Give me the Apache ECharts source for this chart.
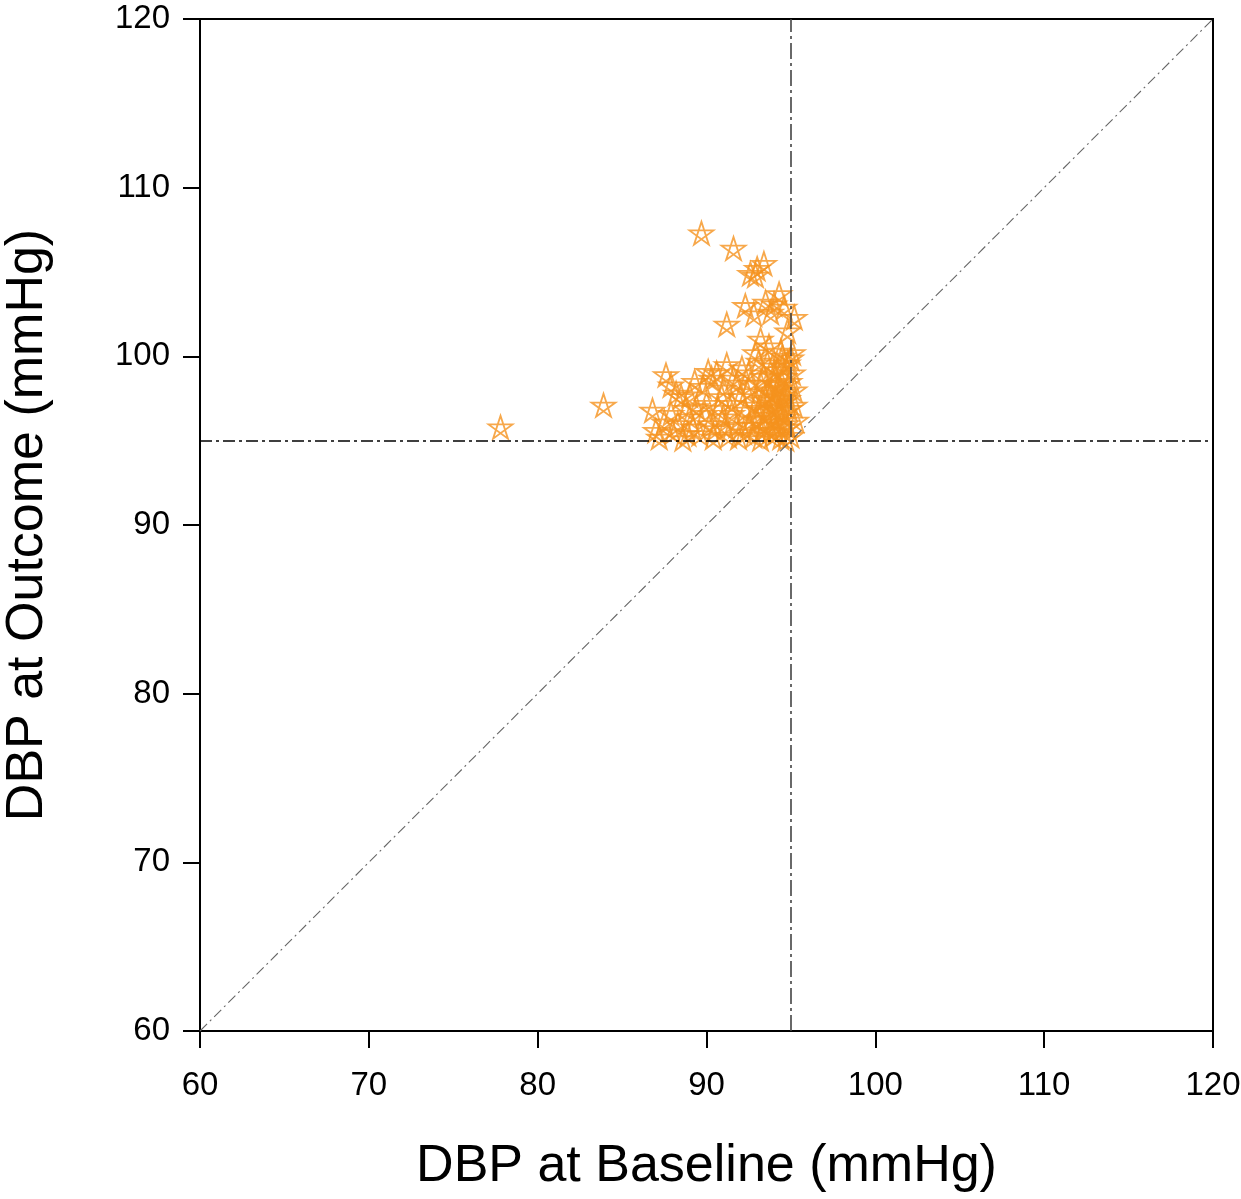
<!DOCTYPE html>
<html>
<head>
<meta charset="utf-8">
<title>DBP at Baseline vs Outcome</title>
<script src="https://cdn.jsdelivr.net/npm/echarts@6/dist/echarts.min.js"></script>
<style>
  html, body { margin: 0; padding: 0; background: #fff; }
  #ct1 { width: 1241px; height: 1199px; }
</style>
</head>
<body>
<div id="ct1"></div>
<script>
// baseline DBP (x) and outcome DBP (y)
var baselineDBP = [
  77.8, 83.9, 89.7, 91.6, 92.6, 93.0, 93.4, 92.9,
  94.3, 92.3, 93.5, 94.0, 94.6, 92.8, 93.8, 95.2, 91.2, 94.8, 93.2, 93.7, 92.9, 94.4, 95.0,
  87.6, 87.9, 88.5, 86.8, 87.5, 87.2, 88.0, 88.6, 89.0, 89.4, 89.0, 89.8, 90.3, 90.6, 91.2, 91.6,
  92.1, 90.9, 90.2, 89.6, 90.5, 91.0, 91.3, 91.8, 92.3, 92.0, 92.6, 93.1, 92.5, 93.4, 89.2, 88.3,
  87.9, 88.8, 90.0, 90.7, 91.5, 92.2, 92.8, 93.0, 93.3, 93.6, 93.5, 93.2, 93.8, 94.0, 94.2, 94.5,
  94.7, 94.9, 95.1, 94.3, 94.1, 93.9, 94.6, 94.8, 95.0, 94.4, 93.7, 94.2, 94.8, 93.9, 95.2, 95.3,
  94.0, 93.6, 94.5, 95.1, 89.3, 88.2, 90.1, 91.0, 91.8, 92.4, 92.7, 91.5, 90.4, 89.9, 91.9, 92.9,
  93.4, 94.9, 95.2, 94.6, 93.2, 87.0, 88.9, 91.1, 92.5, 93.9, 94.3, 94.7, 93.1, 94.1, 94.4, 93.8,
  94.0, 94.6, 93.5, 94.2, 94.7, 93.9, 94.5, 93.3, 94.8, 94.1
];
var outcomeDBP = [
  95.8, 97.1, 107.3, 106.4, 104.9, 105.2, 105.5, 104.8,
  103.7, 103.0, 103.2, 103.1, 102.9, 102.5, 102.6, 102.3, 101.9, 101.5, 101.0, 100.6, 100.2, 100.3, 99.9,
  98.9, 98.3, 97.6, 96.8, 96.1, 95.2, 95.5, 95.1, 96.4, 97.0, 97.7, 98.2, 98.7, 99.0, 99.5, 98.7,
  99.3, 97.6, 96.0, 95.4, 95.7, 96.4, 95.3, 95.9, 96.8, 97.6, 98.4, 99.7, 99.0, 98.8, 95.8, 96.0,
  96.6, 96.9, 97.2, 96.9, 97.2, 95.5, 95.3, 96.2, 97.4, 98.0, 96.5, 95.1, 95.6, 96.1, 96.8, 97.3,
  97.9, 98.5, 99.0, 98.3, 97.6, 97.0, 96.4, 95.8, 95.3, 95.2, 96.9, 99.2, 99.6, 99.4, 97.1, 96.2,
  98.9, 99.6, 100.0, 100.2, 98.5, 97.8, 99.1, 98.1, 98.4, 97.9, 96.3, 96.6, 95.2, 96.6, 95.2, 97.1,
  95.9, 96.9, 98.0, 98.8, 98.4, 95.6, 95.4, 95.8, 95.9, 95.3, 95.9, 95.1, 96.9, 97.2, 96.6, 97.8,
  98.4, 97.7, 97.5, 98.1, 96.0, 96.3, 99.4, 95.6, 97.5, 95.5
];
var axisTicks = [60, 70, 80, 90, 100, 110, 120];
var cutoff = 95;

var points = [];
for (var i = 0; i < baselineDBP.length; i++) {
  points.push([baselineDBP[i], outcomeDBP[i]]);
}

// pentagram, drawn as five crossing strokes
var starPath = 'path://M50,0 L79.4,90.5 L2.4,34.5 L97.6,34.5 L20.6,90.5 Z';

var fontName = 'Liberation Sans, Arial, sans-serif';

var option1 = {
  backgroundColor: '#fff',
  animation: false,
  grid: {
    left: 200, right: 28, top: 19, bottom: 168,
    outerBoundsMode: 'none', containLabel: false,
    show: true, borderColor: '#000', borderWidth: 2
  },
  xAxis: {
    type: 'value', min: axisTicks[0], max: axisTicks[axisTicks.length - 1], interval: 10,
    name: 'DBP at Baseline (mmHg)', nameLocation: 'middle', nameGap: 110,
    nameTextStyle: { fontFamily: fontName, fontSize: 52, color: '#000' },
    axisLine: { show: true, lineStyle: { color: '#000', width: 2 } },
    axisTick: { show: true, inside: false, length: 17, lineStyle: { color: '#000', width: 2 } },
    axisLabel: { margin: 38, fontFamily: fontName, fontSize: 33, color: '#000' },
    splitLine: { show: false }
  },
  yAxis: {
    type: 'value', min: axisTicks[0], max: axisTicks[axisTicks.length - 1], interval: 10,
    name: 'DBP at Outcome (mmHg)', nameLocation: 'middle', nameGap: 146,
    nameTextStyle: { fontFamily: fontName, fontSize: 52, color: '#000' },
    axisLine: { show: true, lineStyle: { color: '#000', width: 2 } },
    axisTick: { show: true, inside: false, length: 17, lineStyle: { color: '#000', width: 2 } },
    axisLabel: { margin: 30, fontFamily: fontName, fontSize: 33, color: '#000' },
    splitLine: { show: false }
  },
  series: [
    {
      type: 'scatter',
      data: points,
      symbol: starPath,
      symbolSize: [24, 23],
      itemStyle: { color: 'rgba(0,0,0,0)', borderColor: '#F5921E', borderWidth: 1.8 },
      z: 2
    },
    {
      type: 'line',
      data: [],
      z: 3,
      markLine: {
        silent: true,
        symbol: ['none', 'none'],
        label: { show: false },
        animation: false,
        data: [
          { yAxis: cutoff, lineStyle: { color: '#000', width: 1.5, type: [12, 4, 3, 4] } },
          { xAxis: cutoff, lineStyle: { color: '#444', width: 1.6, type: [16, 4, 3, 4] } },
          [
            { coord: [axisTicks[0], axisTicks[0]], lineStyle: { color: '#666', width: 1.1, type: [10, 4, 2, 4] } },
            { coord: [axisTicks[axisTicks.length - 1], axisTicks[axisTicks.length - 1]] }
          ]
        ]
      }
    }
  ]
};

var myChart1 = echarts.init(document.getElementById('ct1'));
myChart1.setOption(option1, true);
</script>
</body>
</html>
